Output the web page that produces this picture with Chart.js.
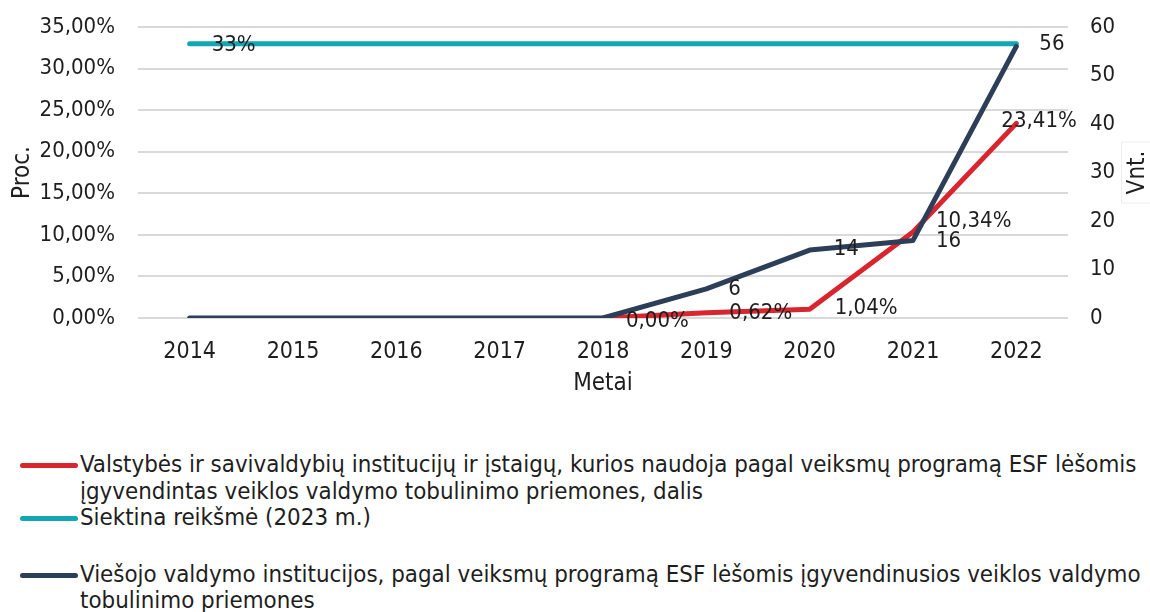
<!DOCTYPE html>
<html lang="lt">
<head>
<meta charset="utf-8">
<script src="https://cdn.jsdelivr.net/npm/chart.js@4.4.1/dist/chart.umd.min.js"></script>
<style>
  body { margin: 0; background: #fff; width: 1150px; height: 612px; overflow: hidden;
         font-family: "DejaVu Sans Condensed", "DejaVu Sans", sans-serif; }
  #wrap { position: relative; width: 1150px; height: 401px; }
  #legend { position: absolute; left: 20px; top: 451px; width: 1128px; font-size: 23.85px;
            color: #1e1e1e; line-height: 26.5px; }
  .item { position: relative; padding-left: 60px; }
  .sw { position: absolute; left: 0; top: 12px; width: 58px; height: 5px; border-radius: 3px; }
</style>
</head>
<body>
<div id="wrap"><canvas id="chart"></canvas></div>
<div id="legend"></div>
<script>
// Duomenys
const metai = ['2014', '2015', '2016', '2017', '2018', '2019', '2020', '2021', '2022'];
const dalis = [null, null, null, null, 0, 0.62, 1.04, 10.34, 23.41];
const siektina = [33, 33, 33, 33, 33, 33, 33, 33, 33];
const institucijos = [0, 0, 0, 0, 0, 6, 14, 16, 56];

const FONT = '"DejaVu Sans Condensed", "DejaVu Sans", sans-serif';
const TXT = '#1e1e1e';

const proc = (v, d) => v.toFixed(d).replace('.', ',') + '%';

// Reikšmių etiketės prie taškų
const labelsPlugin = {
    id: 'pointLabels',
    afterDatasetsDraw(chart) {
        const ctx = chart.ctx;
        ctx.save();
        ctx.font = '22px ' + FONT;
        ctx.fillStyle = TXT;
        ctx.textAlign = 'left';
        ctx.textBaseline = 'middle';
        chart.data.datasets.forEach((ds, i) => {
            const meta = chart.getDatasetMeta(i);
            (ds.etiketes || []).forEach(e => {
                const pt = meta.data[e.i];
                const v = ds.data[e.i];
                ctx.fillText(ds.fmt(v), pt.x + e.dx, pt.y + e.dy);
            });
        });
        // dešinės ašies pavadinimas
        const ya = chart.scales.y1;
        const cy = (ya.top + ya.bottom) / 2;
        ctx.strokeStyle = '#ededed';
        ctx.lineWidth = 1;
        ctx.strokeRect(1121.5, cy - 30.5, 40, 61);
        ctx.font = '24px ' + FONT;
        ctx.translate(1138, cy);
        ctx.rotate(-Math.PI / 2);
        ctx.textAlign = 'center';
        ctx.fillText('Vnt.', 0, 0);
        ctx.restore();
    }
};

const chart = new Chart(document.getElementById('chart'), {
    type: 'line',
    data: {
        labels: metai,
        datasets: [
            {
                label: 'Valstybės ir savivaldybių institucijų ir įstaigų, kurios naudoja pagal veiksmų programą ESF lėšomis įgyvendintas veiklos valdymo tobulinimo priemones, dalis',
                data: dalis,
                borderColor: '#d8252e',
                yAxisID: 'y',
                order: 3,
                fmt: v => proc(v, 2),
                etiketes: [
                    { i: 4, dx: 23, dy: 3 },
                    { i: 5, dx: 23, dy: 0 },
                    { i: 6, dx: 25, dy: -1 },
                    { i: 7, dx: 23, dy: -11 },
                    { i: 8, dx: -15, dy: -2 }
                ]
            },
            {
                label: 'Siektina reikšmė (2023 m.)',
                data: siektina,
                borderColor: '#13a6b3',
                yAxisID: 'y',
                order: 2,
                fmt: v => proc(v, 0),
                etiketes: [{ i: 0, dx: 22, dy: 2 }]
            },
            {
                label: 'Viešojo valdymo institucijos, pagal veiksmų programą ESF lėšomis įgyvendinusios veiklos valdymo tobulinimo priemones',
                data: institucijos,
                borderColor: '#2d3f58',
                yAxisID: 'y1',
                order: 1,
                fmt: v => String(v),
                etiketes: [
                    { i: 5, dx: 22, dy: 0 },
                    { i: 6, dx: 24, dy: -1 },
                    { i: 7, dx: 23, dy: 1 },
                    { i: 8, dx: 23, dy: -2 }
                ]
            }
        ]
    },
    options: {
        responsive: true,
        maintainAspectRatio: false,
        animation: false,
        elements: {
            line: { borderWidth: 5, tension: 0, borderCapStyle: 'round', borderJoinStyle: 'round' },
            point: { radius: 0, hoverRadius: 0 }
        },
        layout: { padding: { top: 0, left: 0, right: 0, bottom: 0 } },
        plugins: {
            legend: { display: false },
            tooltip: { enabled: false }
        },
        scales: {
            x: {
                offset: true,
                grid: { display: false },
                border: { display: false },
                ticks: { color: TXT, font: { family: FONT, size: 23 }, padding: 12 },
                title: { display: true, text: 'Metai', color: TXT, font: { family: FONT, size: 24 }, padding: { top: 0, bottom: 3 } },
                afterFit: s => { s.height = 83; }
            },
            y: {
                position: 'left',
                min: 0, max: 35,
                ticks: { stepSize: 5, color: TXT, font: { family: FONT, size: 22 }, padding: 23,
                         callback: v => proc(v, 2) },
                grid: { color: '#d9d9d9', lineWidth: 2, drawTicks: false },
                border: { display: false },
                title: { display: true, text: 'Proc.', color: TXT, font: { family: FONT, size: 24 }, padding: 8 },
                afterFit: s => { s.width = 138; s.paddingTop = 27; s.paddingBottom = 10; }
            },
            y1: {
                position: 'right',
                min: 0, max: 60,
                ticks: { stepSize: 10, color: TXT, font: { family: FONT, size: 22 }, padding: 22 },
                grid: { drawOnChartArea: false, drawTicks: false },
                border: { display: false },
                afterFit: s => { s.width = 82; s.paddingTop = 27; s.paddingBottom = 10; }
            }
        }
    },
    plugins: [labelsPlugin]
});

// Legenda apačioje
const legend = document.getElementById('legend');
chart.data.datasets.forEach((ds, i) => {
    const d = document.createElement('div');
    d.className = 'item';
    if (i === 1) d.style.marginBottom = '30px';
    const sw = document.createElement('span');
    sw.className = 'sw';
    sw.style.background = ds.borderColor;
    d.appendChild(sw);
    d.appendChild(document.createTextNode(ds.label));
    legend.appendChild(d);
});
</script>
</body>
</html>
